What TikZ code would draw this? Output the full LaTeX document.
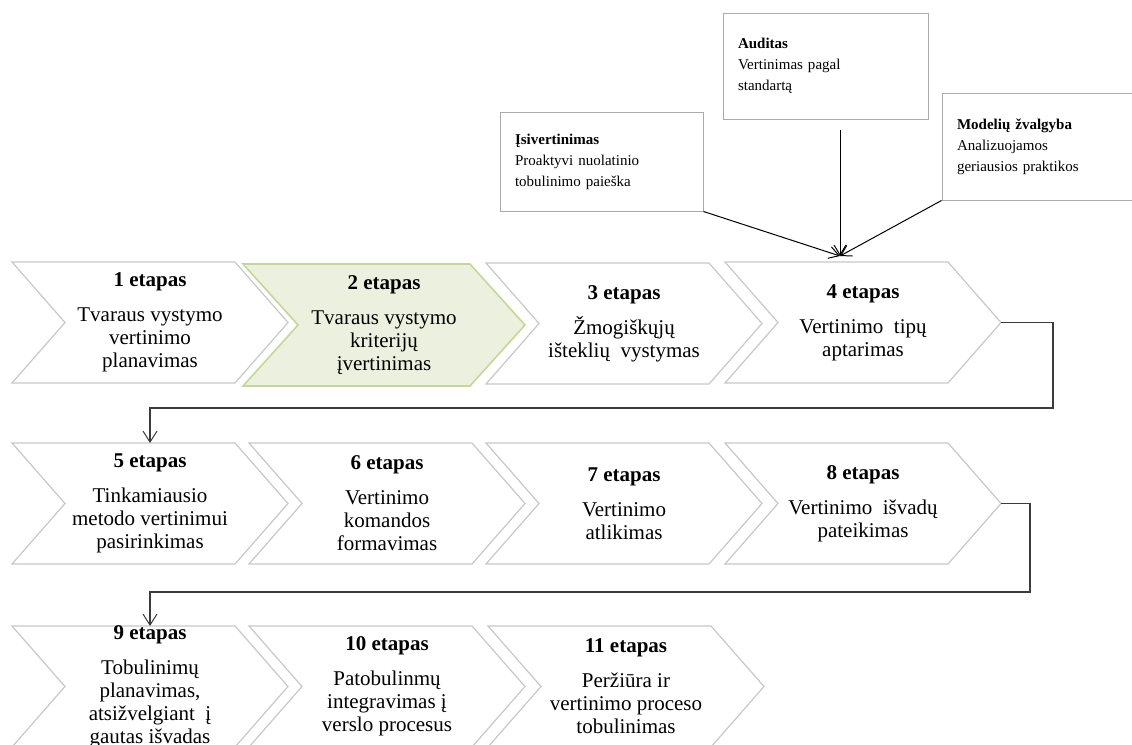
\documentclass[tikz,border=0pt]{standalone}
\usepackage{fontspec}
\setmainfont{Liberation Serif}
\usetikzlibrary{arrows.meta,calc}

\definecolor{chevline}{RGB}{200,200,200}
\definecolor{stagefill}{RGB}{235,241,222}
\definecolor{stageline}{RGB}{196,215,155}
\definecolor{linkgray}{RGB}{60,60,60}
\definecolor{boxline}{RGB}{170,170,170}

% #1 style, #2 name, #3 left x, #4 top y, #5 total width, #6 point depth, #7 height, #8 text
\newcommand{\stagechevron}[8]{%
  \path[#1] (#3,#4) -- ++(#5-#6,0) -- ++(#6,#7/2) -- ++(-#6,#7/2)
        -- ++(#6-#5,0) -- ++(#6,-#7/2) -- cycle;
  \node[stagetext] (#2) at (#3+#5/2,#4+#7/2) {#8};
  \coordinate (#2-tip) at (#3+#5,#4+#7/2);
  \coordinate (#2-top) at (#3+#5/2,#4);
}

\begin{document}
\begin{tikzpicture}[x=1pt,y=-1pt,
  chevbox/.style={draw=chevline,line width=1.2pt,fill=white},
  greenbox/.style={draw=stageline,line width=1.6pt,fill=stagefill},
  stagetext/.style={align=center,inner sep=0pt,font=\fontsize{21}{23}\selectfont},
  infobox/.style={draw=boxline,line width=1pt,fill=white,align=left,
    inner xsep=15pt,inner ysep=0pt,font=\fontsize{15}{21}\selectfont},
  link/.style={draw=linkgray,line width=1.5pt,
    -{Straight Barb[length=11pt,width=14pt,line width=1pt]}},
  feed/.style={draw=black,line width=1pt,-{Straight Barb[length=10pt,width=12pt]}}]

\useasboundingbox (0,0) rectangle (1132,744);

% evaluation approaches feeding stage 4
\node[infobox,minimum width=205,minimum height=106,text width=175] (audit) at (825.5,66)
  {\textbf{Auditas}\\Vertinimas pagal\\standartą};
\node[infobox,minimum width=203,minimum height=99,text width=173] (isv) at (601.5,161.5)
  {\textbf{Įsivertinimas}\\Proaktyvi nuolatinio\\tobulinimo paieška};
\node[infobox,minimum width=192,minimum height=107,text width=162] (model) at (1038,146.5)
  {\textbf{Modelių žvalgyba}\\Analizuojamos\\geriausios praktikos};

% row 1
\stagechevron{chevbox}{c1}{12}{262}{276}{53}{121}
  {\textbf{1 etapas}\\[12pt]Tvaraus vystymo\\vertinimo\\planavimas}
\stagechevron{greenbox}{c2}{243}{264}{282}{55}{122}
  {\textbf{2 etapas}\\[12pt]Tvaraus vystymo\\kriterijų\\įvertinimas}
\stagechevron{chevbox}{c3}{486}{263}{276}{53}{121}
  {\textbf{3 etapas}\\[12pt]Žmogiškųjų\\išteklių\enspace vystymas}
\stagechevron{chevbox}{c4}{725}{262}{276}{53}{121}
  {\textbf{4 etapas}\\[12pt]Vertinimo\enspace tipų\\aptarimas}

% row 2
\stagechevron{chevbox}{c5}{12}{443}{276}{53}{121}
  {\textbf{5 etapas}\\[12pt]Tinkamiausio\\metodo vertinimui\\pasirinkimas}
\stagechevron{chevbox}{c6}{249}{443}{276}{53}{121}
  {\textbf{6 etapas}\\[12pt]Vertinimo\\komandos\\formavimas}
\stagechevron{chevbox}{c7}{486}{443}{276}{53}{121}
  {\textbf{7 etapas}\\[12pt]Vertinimo\\atlikimas}
\stagechevron{chevbox}{c8}{725}{443}{276}{53}{121}
  {\textbf{8 etapas}\\[12pt]Vertinimo\enspace išvadų\\pateikimas}

% row 3
\stagechevron{chevbox}{c9}{12}{626}{276}{53}{121}
  {\textbf{9 etapas}\\[12pt]Tobulinimų\\planavimas,\\atsižvelgiant\enspace į\\gautas išvadas}
\stagechevron{chevbox}{c10}{249}{626}{276}{53}{121}
  {\textbf{10 etapas}\\[12pt]Patobulinmų\\integravimas į\\verslo procesus}
\stagechevron{chevbox}{c11}{488}{626}{276}{53}{121}
  {\textbf{11 etapas}\\[12pt]Peržiūra ir\\vertinimo proceso\\tobulinimas}

% arrows into stage 4
\coordinate (conv) at (840,256);
\coordinate (auditfoot) at ($(audit.south -| conv)+(0,10)$);
\draw[feed] (isv.south east) -- (conv);
\draw[feed] (auditfoot) -- (conv);
\draw[feed] (model.south west) -- (conv);

% row-to-row connectors
\coordinate (turn1) at (1053,408);
\coordinate (turn2) at (1030,592);
\draw[link] (c4-tip) -| (turn1) -| (c5-top);
\draw[link] (c8-tip) -| (turn2) -| (c9-top);
\end{tikzpicture}
\end{document}
